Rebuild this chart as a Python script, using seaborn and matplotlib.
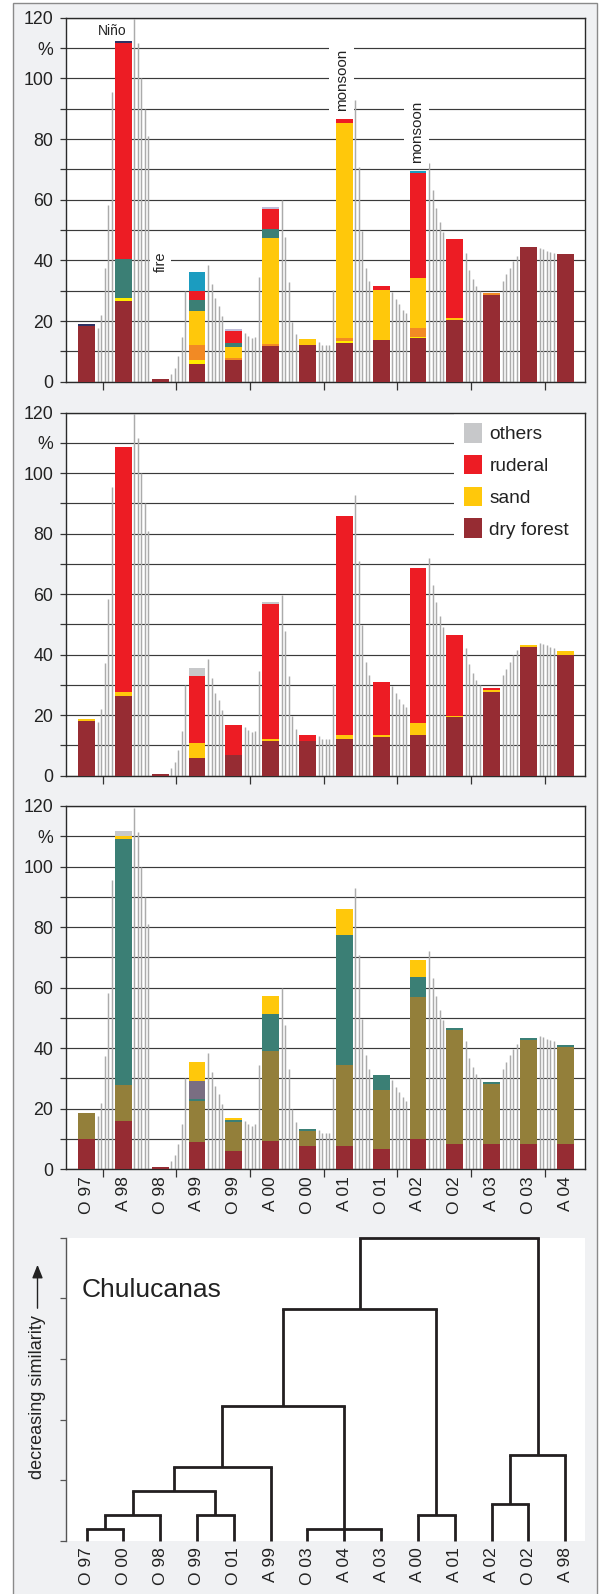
import numpy as np
import pandas as pd
import seaborn as sns
import matplotlib
matplotlib.use("Agg")
import matplotlib.pyplot as plt
from matplotlib.patches import Patch, Rectangle

# ---------------- data ----------------
samples = ["O 97", "A 98", "O 98", "A 99", "O 99", "A 00", "O 00",
           "A 01", "O 01", "A 02", "O 02", "A 03", "O 03", "A 04"]

# monthly-ish rainfall bars (5 per gap between samples)
rain = [
    [17.6, 22.0, 37.4, 58.3, 95.6],
    [119.5, 111.5, 100.0, 90.0, 81.0],
    [2.7, 4.6, 8.5, 14.9, 30.0],
    [38.5, 32.2, 27.5, 25.0, 21.7],
    [16.0, 15.1, 14.3, 14.8, 34.6],
    [59.9, 47.8, 33.0, 19.8, 15.6],
    [13.0, 12.1, 12.1, 12.1, 30.2],
    [92.9, 70.9, 49.7, 37.6, 33.2],
    [29.6, 27.3, 25.5, 23.8, 22.7],
    [72.0, 63.2, 57.4, 52.7, 49.2],
    [42.3, 36.8, 33.8, 31.6, 30.0],
    [33.2, 35.4, 37.6, 39.8, 41.5],
    [44.0, 43.6, 43.1, 42.6, 42.3],
]

# panel 1 (segment thickness, bottom -> top)
p1_dryforest = [18.4, 26.6, 0.9, 6.0, 7.1, 11.8, 12.1, 12.7, 13.7, 14.4, 20.3, 28.7, 44.4, 42.1]
p1_yellow    = [0, 1.1, 0, 1.1, 0, 0, 0, 0.7, 0, 0.4, 0, 0, 0, 0]
p1_orange    = [0, 0, 0, 5.0, 0.7, 0.7, 0, 1.0, 0, 2.9, 0, 0.5, 0, 0]
p1_sand      = [0, 0, 0, 11.2, 3.6, 34.9, 2.0, 70.9, 16.5, 16.5, 0.7, 0, 0, 0]
p1_teal      = [0, 12.7, 0, 3.7, 1.3, 2.8, 0, 0, 0, 0, 0, 0, 0, 0]
p1_red       = [0, 71.4, 0, 2.9, 4.0, 6.7, 0, 1.4, 1.3, 34.6, 26.0, 0, 0, 0]
p1_cyan      = [0, 0, 0, 6.3, 0, 0, 0, 0, 0, 0.7, 0, 0, 0, 0]
p1_navy      = [0.6, 0.5, 0, 0, 0, 0, 0, 0, 0, 0, 0, 0, 0, 0]
p1_lavender  = [0, 0, 0, 0, 0.7, 0.7, 0, 0, 0, 0, 0, 0, 0, 0]

# panel 2
p2_dryforest = [18.1, 26.3, 0.55, 5.8, 6.8, 11.6, 11.6, 12.2, 12.9, 13.4, 19.4, 27.7, 42.6, 39.9]
p2_sand      = [0.6, 1.5, 0, 5.0, 0, 0.5, 0, 1.2, 0.5, 4.1, 0.4, 0.6, 0.6, 1.3]
p2_ruderal   = [0, 80.8, 0, 22.1, 9.9, 44.6, 1.8, 72.4, 17.6, 51.2, 26.7, 0.7, 0, 0]
p2_others    = [0, 0, 0, 2.7, 0, 0.7, 0, 0, 0, 0, 0, 0, 0, 0]

# panel 3
p3_red    = [10.0, 16.0, 0.8, 9.0, 6.1, 9.4, 7.7, 7.7, 6.7, 10.0, 8.4, 8.4, 8.4, 8.4]
p3_olive  = [8.6, 11.9, 0, 13.4, 9.6, 29.6, 5.0, 26.6, 19.5, 47.0, 37.7, 19.9, 34.4, 32.0]
p3_teal   = [0, 81.2, 0, 0.8, 0.6, 12.2, 0.6, 43.2, 4.9, 6.5, 0.7, 0.6, 0.7, 0.7]
p3_purple = [0, 0, 0, 6.0, 0, 0, 0, 0, 0, 0, 0, 0, 0, 0]
p3_yellow = [0, 1.0, 0, 6.3, 0.7, 6.1, 0, 8.5, 0, 5.7, 0, 0, 0, 0]
p3_gray   = [0, 1.7, 0, 0, 0, 0, 0, 0, 0, 0, 0, 0, 0, 0]

legend_labels = ["others", "ruderal", "sand", "dry forest"]

# dendrogram
dend_leaves = ["O 97", "O 00", "O 98", "O 99", "O 01", "A 99", "O 03",
               "A 04", "A 03", "A 00", "A 01", "A 02", "O 02", "A 98"]
# children: indices < 14 are leaves, >= 14 are earlier merges
dend_children = [(0, 1), (14, 2), (3, 4), (15, 16), (17, 5), (6, 7, 8),
                 (18, 19), (9, 10), (20, 21), (11, 12), (23, 13), (22, 24)]
dend_heights = [0.19, 0.42, 0.42, 0.825, 1.22, 0.19, 2.22, 0.42, 3.82, 0.61, 1.42, 5.0]

# ---------------- style ----------------
sns.set_theme(style="white")
plt.rcParams["font.family"] = ["Liberation Sans", "DejaVu Sans"]
plt.rcParams["axes.unicode_minus"] = False

C_DRY = "#962C33"
C_YEL = "#FFEC00"
C_ORA = "#F28A24"
C_SAND = "#FFC80B"
C_TEAL = "#3B7F75"
C_RED = "#ED1C24"
C_CYAN = "#1B9CC0"
C_NAVY = "#2E3163"
C_LAV = "#BFBDD9"
C_OTH = "#C7C8CA"
C_OLIVE = "#937F3A"
C_PURP = "#7A6E82"

W, H = 600, 1594
fig = plt.figure(figsize=(W / 100, H / 100), dpi=100)
fig.patch.set_facecolor("white")
fig.add_artist(Rectangle((12.7 / W, -0.01), (596.7 - 12.7) / W, (H - 2.7) / H + 0.01,
                         transform=fig.transFigure, fc="#F0F1F3", ec="#8a8a8a",
                         lw=1.0, zorder=-10))


def rect(x0, y0, x1, y1):
    return [x0 / W, 1 - y1 / H, (x1 - x0) / W, (y1 - y0) / H]


XL, XR = 65.7, 585.0
ax1 = fig.add_axes(rect(XL, 17.7, XR, 381.7))
ax2 = fig.add_axes(rect(XL, 412.7, XR, 775.7))
ax3 = fig.add_axes(rect(XL, 806.0, XR, 1169.3))
axd = fig.add_axes(rect(XL, 1237.7, XR, 1540.7))

xpos = np.arange(len(samples), dtype=float)
xlim = (-0.565, 13.535)
offsets = np.array([0.30, 0.395, 0.49, 0.585, 0.68])
rain_x = np.concatenate([i + offsets for i in range(len(rain))])
rain_h = np.concatenate([np.array(r) for r in rain])
ylabels = ["0", "", "20", "", "40", "", "60", "", "80", "", "100", "%", "120"]
year_ticks = [0.44 + 2 * k for k in range(7)]


def stacked(ax, layers):
    cum = np.cumsum(np.array([l for l, c in layers], dtype=float), axis=0)
    for k in range(len(layers) - 1, -1, -1):
        df = pd.DataFrame({"x": xpos, "y": cum[k]})
        sns.barplot(data=df, x="x", y="y", native_scale=True, color=layers[k][1],
                    saturation=1, width=0.46, errorbar=None, linewidth=0,
                    ax=ax, zorder=3)


def base_axes(ax):
    ax.set_facecolor("white")
    ax.set_axisbelow(True)
    ax.vlines(rain_x, 0, rain_h, colors="#ababab", lw=1.05, zorder=2)
    ax.set_xlim(*xlim)
    ax.set_ylim(0, 120)
    ax.set_yticks(np.arange(0, 121, 10))
    ax.set_yticklabels(ylabels)
    ax.yaxis.grid(True, color="#3a3a3a", lw=0.85)
    ax.xaxis.grid(False)
    ax.set_xticks(year_ticks)
    ax.set_xticklabels([])
    ax.tick_params(axis="y", direction="out", length=4.5, width=0.9, color="#333333",
                   labelsize=12.8, pad=4.5, left=True, labelcolor="#222222")
    ax.tick_params(axis="x", which="major", direction="out", length=6, width=0.9,
                   color="#333333", bottom=True)
    for s in ax.spines.values():
        s.set_color("#2a2a2a")
        s.set_linewidth(1.0)
        s.set_visible(True)
    ax.set_xlabel("")
    ax.set_ylabel("")


# panel 1
stacked(ax1, [(p1_dryforest, C_DRY), (p1_yellow, C_YEL), (p1_orange, C_ORA),
              (p1_sand, C_SAND), (p1_teal, C_TEAL), (p1_red, C_RED),
              (p1_cyan, C_CYAN), (p1_navy, C_NAVY), (p1_lavender, C_LAV)])
base_axes(ax1)
ax1.text(0.71, 115.5, "Niño", fontsize=10, ha="center", va="center", color="#222222", zorder=6)
box = dict(facecolor="white", edgecolor="none", pad=4)
ax1.text(2.02, 39.6, "fire", fontsize=10.5, rotation=90, ha="center", va="center",
         color="#222222", bbox=dict(facecolor="white", edgecolor="none", pad=2.5), zorder=6)
ax1.text(6.93, 99.5, "monsoon", fontsize=11, rotation=90, ha="center", va="center",
         color="#222222", bbox=box, zorder=6)
ax1.text(8.97, 82.4, "monsoon", fontsize=11, rotation=90, ha="center", va="center",
         color="#222222", bbox=box, zorder=6)

# panel 2
stacked(ax2, [(p2_dryforest, C_DRY), (p2_sand, C_SAND), (p2_ruderal, C_RED),
              (p2_others, C_OTH)])
base_axes(ax2)
ax2.add_patch(Rectangle((0.748, 0.633), 0.252, 0.367, transform=ax2.transAxes,
                        fc="white", ec="none", zorder=0.9))
handles = [Patch(facecolor=c, edgecolor="none") for c in [C_OTH, C_RED, C_SAND, C_DRY]]
ax2.legend(handles, legend_labels, loc="upper left",
           bbox_to_anchor=(464 / W, 1 - 423 / H), bbox_transform=fig.transFigure,
           frameon=False, borderpad=0, borderaxespad=0, handlelength=0.95,
           handleheight=1.2, labelspacing=0.6, handletextpad=0.38, fontsize=13.8,
           labelcolor="#222222")

# panel 3
stacked(ax3, [(p3_red, C_DRY), (p3_olive, C_OLIVE), (p3_teal, C_TEAL),
              (p3_purple, C_PURP), (p3_yellow, C_SAND), (p3_gray, C_OTH)])
base_axes(ax3)
ax3.set_xticks(xpos, minor=True)
ax3.set_xticklabels(samples, minor=True, rotation=90, fontsize=12.5, color="#222222")
ax3.tick_params(axis="x", which="minor", length=0, pad=5)

# dendrogram
axd.set_facecolor("white")
nleaf = len(dend_leaves)
node_x = list(range(nleaf))
node_h = [0.0] * nleaf
for ch, h in zip(dend_children, dend_heights):
    xs = [node_x[c] for c in ch]
    hs = [node_h[c] for c in ch]
    axd.plot([min(xs), max(xs)], [h, h], color="#231f20", lw=2.0,
             solid_capstyle="projecting", clip_on=False, zorder=3)
    for xc, hc in zip(xs, hs):
        axd.plot([xc, xc], [hc, h], color="#231f20", lw=2.0,
                 solid_capstyle="butt", clip_on=False, zorder=3)
    node_x.append(float(np.mean(xs)))
    node_h.append(h)
axd.set_xlim(*xlim)
axd.set_ylim(0, 5)
axd.set_yticks(np.arange(0, 6))
axd.set_yticklabels([])
axd.set_xticks(np.arange(nleaf))
axd.set_xticklabels(dend_leaves, rotation=90, fontsize=12.5, color="#222222")
axd.tick_params(axis="x", length=0, pad=4.5)
axd.tick_params(axis="y", direction="out", length=4.5, width=0.9, color="#555555", left=True)
for k, s in axd.spines.items():
    s.set_visible(k == "left")
axd.spines["left"].set_color("#555555")
axd.spines["left"].set_linewidth(1.0)
axd.text(81.7 / W, 1 - 1290 / H, "Chulucanas", transform=fig.transFigure,
         fontsize=19, ha="left", va="center", color="#222222")
fig.text(37.5 / W, 1 - 1397.5 / H, "decreasing similarity", rotation=90,
         fontsize=13, ha="center", va="center", color="#222222")
fig.add_artist(matplotlib.patches.FancyArrowPatch(
    (37.5 / W, 1 - 1311 / H), (37.5 / W, 1 - 1262 / H), transform=fig.transFigure,
    arrowstyle="-|>,head_length=4,head_width=1.6", lw=1.0, color="#222222",
    mutation_scale=2))

fig.savefig("out.png", dpi=100)
